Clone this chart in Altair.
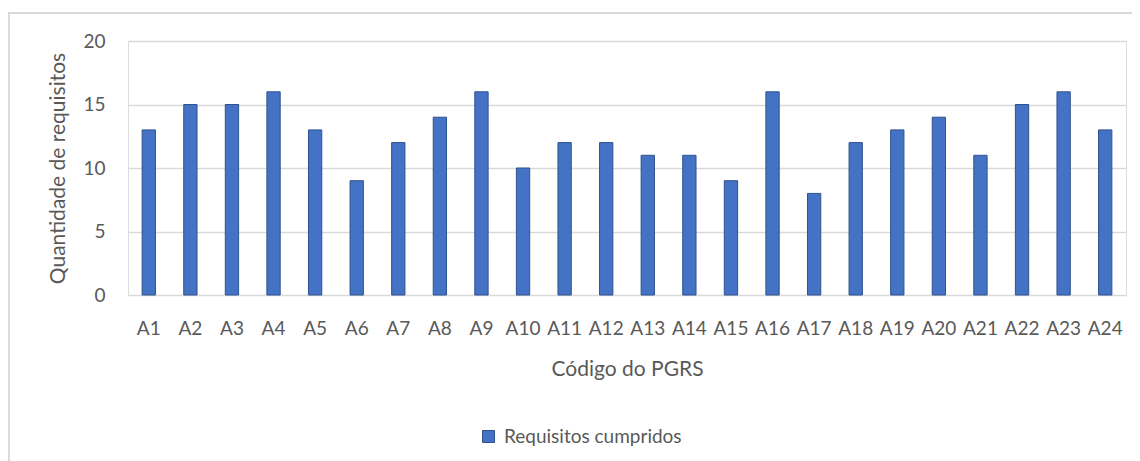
import altair as alt
import pandas as pd

categories = [f"A{i}" for i in range(1, 25)]
values = [13, 15, 15, 16, 13, 9, 12, 14, 16, 10, 12, 12, 11, 11, 9, 16, 8, 12, 13, 14, 11, 15, 16, 13]
series_name = "Requisitos cumpridos"

df = pd.DataFrame({"codigo": categories, "valor": values, "serie": series_name})

FONT = "Lato"
TXT = "#595959"

bars = alt.Chart(df).mark_bar(stroke="#2F528F", strokeWidth=1).encode(
    x=alt.X("codigo:N", sort=categories,
            scale=alt.Scale(paddingInner=0.68, paddingOuter=0.34),
            axis=alt.Axis(title="Código do PGRS", labelAngle=0, ticks=False, domain=False,
                          labelPadding=24, titlePadding=20, labelFontSize=19, titleFontSize=21,
                          labelColor=TXT, titleColor=TXT, labelFont=FONT, titleFont=FONT,
                          titleFontWeight="normal")),
    y=alt.Y("valor:Q", scale=alt.Scale(domain=[0, 20]),
            axis=alt.Axis(title="Quantidade de requisitos", values=[0, 5, 10, 15, 20], ticks=False,
                          domain=False, labelPadding=23, titlePadding=14, labelFontSize=19,
                          titleFontSize=21, labelColor=TXT, titleColor=TXT,
                          labelFont=FONT, titleFont=FONT, titleFontWeight="normal",
                          gridColor="#d9d9d9", gridWidth=1.3)),
    fill=alt.Fill("serie:N", scale=alt.Scale(range=["#4472C4"]),
                  legend=alt.Legend(title=None, orient="none", legendX=351, legendY=386,
                                    symbolType="square", symbolSize=144, symbolStrokeColor="#2F528F",
                                    symbolStrokeWidth=1, labelFontSize=19, labelFont=FONT,
                                    labelColor=TXT, labelOffset=6, labelLimit=0)),
)

frame = alt.Chart(df).mark_rect(fill=None, stroke="#d9d9d9", strokeWidth=1.5).encode(
    x=alt.value(-119.5), x2=alt.value(1020), y=alt.value(-28), y2=alt.value(520)
)

chart = alt.layer(frame, bars).properties(
    width=998, height=254,
    autosize=alt.AutoSizeParams(type="none"),
    padding={"left": 120, "top": 33, "right": 6, "bottom": 166},
).configure_view(stroke=None).configure(background="white")

chart.save("out.html", embed_options={"renderer": "svg", "actions": False})
